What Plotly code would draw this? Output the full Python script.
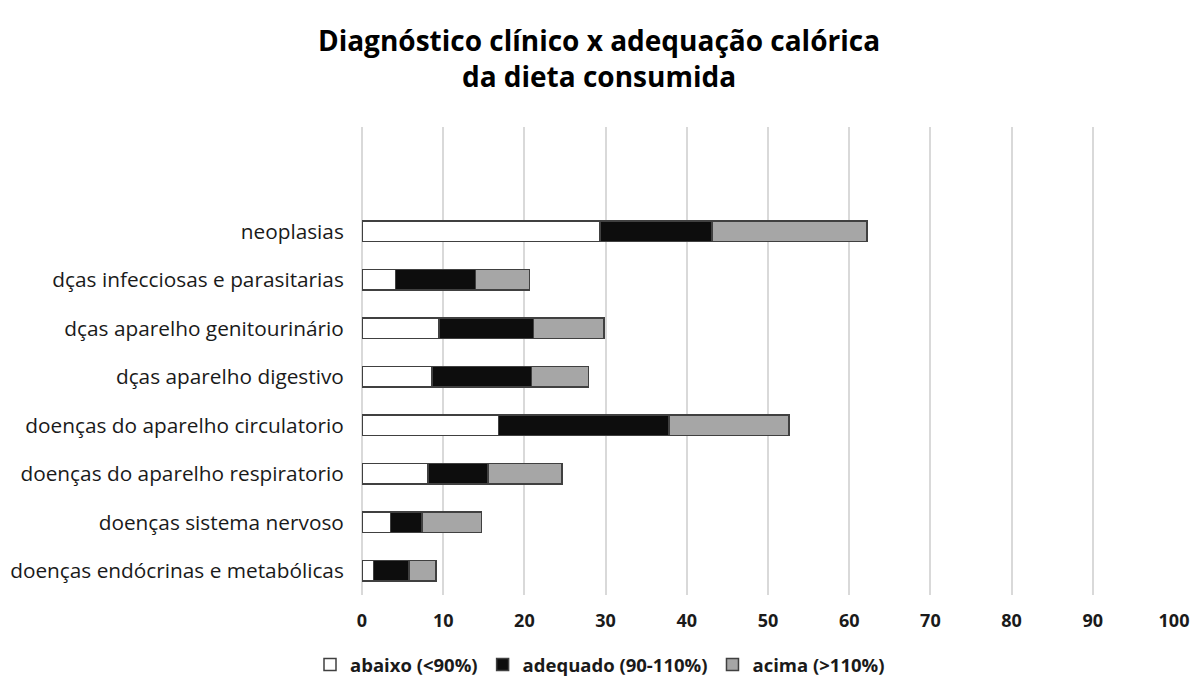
import plotly.graph_objects as go

categories = [
    "doenças endócrinas e metabólicas",
    "doenças sistema nervoso",
    "doenças do aparelho respiratorio",
    "doenças do aparelho circulatorio",
    "dças aparelho digestivo",
    "dças aparelho genitourinário",
    "dças infecciosas e parasitarias",
    "neoplasias",
]
abaixo = [1.4, 3.5, 8.1, 16.8, 8.6, 9.5, 4.1, 29.3]
adequado = [4.4, 3.9, 7.4, 21.0, 12.3, 11.6, 9.9, 13.8]
acima = [3.3, 7.3, 9.1, 14.8, 7.0, 8.7, 6.6, 19.1]
series_names = ["abaixo (<90%)", "adequado (90-110%)", "acima (>110%)"]
x_ticks = [0, 10, 20, 30, 40, 50, 60, 70, 80, 90, 100]

colors = ["#ffffff", "#0d0d0d", "#a6a6a6"]
FONT = "Open Sans"

fig = go.Figure()
for name, vals, col in zip(series_names, [abaixo, adequado, acima], colors):
    fig.add_trace(go.Bar(
        y=list(range(len(categories))),
        x=vals,
        name=name,
        orientation="h",
        width=0.42,
        marker=dict(color=col, line=dict(color="#404040", width=1.5)),
    ))

W, H = 1203, 690
OFF = 8  # page body margin

fig.update_layout(
    barmode="stack",
    width=W,
    height=H,
    paper_bgcolor="white",
    plot_bgcolor="white",
    margin=dict(l=362 - OFF, r=W - 1174 + OFF, t=127 - OFF, b=H - 595 + OFF),
    font=dict(family=FONT, color="#1a1a1a", size=16),
    title=dict(
        text="<b>Diagnóstico clínico x adequação calórica<br>da dieta consumida</b>",
        x=(599 - OFF) / W, xanchor="center", xref="container",
        y=1 - (51 - OFF) / H, yanchor="middle", yref="container",
        font=dict(family=FONT, size=28, color="#000000"),
    ),
    xaxis=dict(
        range=[0, 100],
        tickmode="array",
        tickvals=x_ticks,
        showgrid=True,
        gridcolor="#d9d9d9",
        gridwidth=1.5,
        zeroline=True,
        zerolinecolor="#d9d9d9",
        zerolinewidth=1.5,
        showline=False,
        ticks="outside",
        ticklen=9,
        tickcolor="rgba(0,0,0,0)",
        tickfont=dict(size=18, weight="bold", color="#1a1a1a"),
        automargin=False,
    ),
    yaxis=dict(
        range=[-0.5, 9.15],
        tickmode="array",
        tickvals=list(range(len(categories))),
        ticktext=categories,
        showgrid=False,
        zeroline=False,
        showline=False,
        ticks="outside",
        ticklen=13,
        tickcolor="rgba(0,0,0,0)",
        tickfont=dict(size=20.8, color="#1a1a1a"),
        automargin=False,
    ),
    legend=dict(
        orientation="h",
        xref="container", yref="container",
        x=(600 - OFF) / W, xanchor="center",
        y=1 - (665 - OFF) / H, yanchor="middle",
        font=dict(size=18.5, weight="bold", color="#1a1a1a"),
        traceorder="normal",
        itemwidth=30,
    ),
)

fig.write_html("out.html")
